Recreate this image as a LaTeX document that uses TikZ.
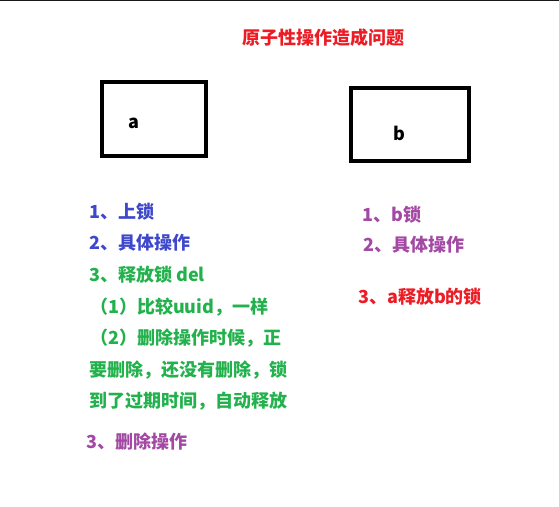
\documentclass[tikz,border=0pt]{standalone}
\usepackage{fontspec}
\setmainfont{Noto Sans CJK SC}
\usepackage{xcolor}
\usetikzlibrary{positioning}
\definecolor{pblue}{HTML}{3F48CC}
\definecolor{pgreen}{HTML}{22B14C}
\definecolor{ppurple}{HTML}{A349A4}
\definecolor{pred}{HTML}{ED1C24}

\begin{document}
\begin{tikzpicture}[
      x=1pt,y=-1pt,
      box/.style={draw,line width=4,inner sep=0},
      txt/.style={anchor=west,inner sep=0,font=\fontsize{18}{18}\selectfont\bfseries},
    ]
    \useasboundingbox (0,0) rectangle (559,506);
    \draw [line width=1.5,black!90] (0,0.5) -- (559,0.5);
    %
    \node (title) [txt,anchor=center,pred] at (323,38) {原子性操作造成问题};
    %
    \node (boxa) [box,minimum width=104,minimum height=74] at (154,119) {};
    \node (boxb) [box,minimum width=118,minimum height=73] at (410,124.5) {};
    \node (la) [txt,anchor=center] at (134,123) {a};
    \node (lb) [txt,anchor=center] at (399,133) {b};
    %
    \node (a1) [txt,pblue] at (89,212) {1、上锁};
    \node (a2) [txt,pblue] at (89,243) {2、具体操作};
    \node (a3) [txt,pgreen] at (89,275) {3、释放锁 del};
    \node (a31) [txt,pgreen] at (90,307) {（1）比较uuid，一样};
    \node (a32) [txt,pgreen] at (90,338) {（2）删除操作时候，正};
    \node (a33) [txt,pgreen] at (89,370) {要删除，还没有删除，锁};
    \node (a34) [txt,pgreen] at (89,401) {到了过期时间，自动释放};
    \node (a4) [txt,ppurple] at (86,442) {3、删除操作};
    %
    \node (b1) [txt,ppurple] at (362,215) {1、b锁};
    \node (b2) [txt,ppurple] at (363,245) {2、具体操作};
    \node (b3) [txt,pred] at (358,297) {3、a释放b的锁};
    %
  \end{tikzpicture}
\end{document}
